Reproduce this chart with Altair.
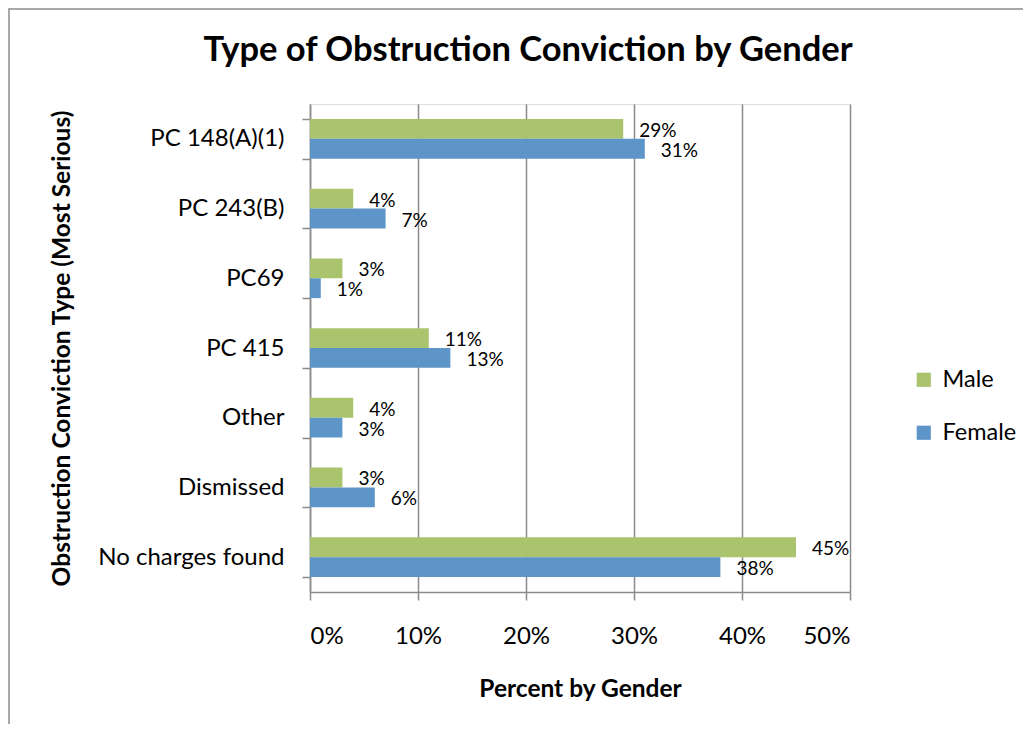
import altair as alt
import pandas as pd

categories = ["PC 148(A)(1)", "PC 243(B)", "PC69", "PC 415", "Other", "Dismissed", "No charges found"]
male = [29, 4, 3, 11, 4, 3, 45]
female = [31, 7, 1, 13, 3, 6, 38]
genders = ["Male", "Female"]
colors = ["#A9C46C", "#5E95C8"]

rows = []
for c, m, f in zip(categories, male, female):
    rows.append({"cat": c, "gender": "Male", "pct": m / 100, "label": f"{m}%"})
    rows.append({"cat": c, "gender": "Female", "pct": f / 100, "label": f"{f}%"})
df = pd.DataFrame(rows)

FONT = "Lato"
GRID = "#8a8a8a"

y_enc = alt.Y("cat:N", sort=categories, title="Obstruction Conviction Type (Most Serious)",
              scale=alt.Scale(paddingInner=0.43, paddingOuter=0.215),
              axis=alt.Axis(tickBand="extent", tickSize=8, tickColor=GRID, tickWidth=1.5,
                            domainColor=GRID, domainWidth=1.5, labelFontSize=24,
                            labelPadding=18, labelColor="black", labelLimit=400,
                            titleFontSize=24.5, titleFontWeight="bold", titlePadding=36,
                            labelFont=FONT, titleFont=FONT, grid=False))
x_enc = alt.X("pct:Q", title="Percent by Gender",
              scale=alt.Scale(domain=[0, 0.5], nice=False),
              axis=alt.Axis(format=".0%", values=[0, 0.1, 0.2, 0.3, 0.4, 0.5],
                            grid=True, gridColor=GRID, gridWidth=1.5, tickSize=8,
                            tickColor=GRID, tickWidth=1.5, domainColor=GRID, domainWidth=1.5,
                            labelFontSize=24, labelPadding=24, labelColor="black",
                            titleFontSize=24.5, titleFontWeight="bold", titlePadding=29,
                            labelFont=FONT, titleFont=FONT))
yoff = alt.YOffset("gender:N", sort=genders, scale=alt.Scale(domain=genders, paddingInner=0))

base = alt.Chart(df).encode(y=y_enc, yOffset=yoff)

bars = base.mark_bar().encode(
    x=x_enc,
    color=alt.Color("gender:N", sort=genders,
                    scale=alt.Scale(domain=genders, range=colors),
                    legend=alt.Legend(title=None, orient="none", legendX=602, legendY=264,
                                      symbolType="square", symbolSize=200, symbolStrokeWidth=0,
                                      labelFontSize=23.5, labelFont=FONT, labelColor="black",
                                      rowPadding=28, labelOffset=7, padding=0)),
)

labels = base.mark_text(align="left", baseline="middle", dx=16, dy=2, fontSize=19, font=FONT,
                        color="black").encode(x=alt.X("pct:Q"), text="label:N")

frame = alt.Chart(pd.DataFrame({"a": [0]})).mark_rect(
    fill=None, stroke="#8c8c8c", strokeWidth=1.5
).encode(x=alt.value(-301), x2=alt.value(760), y=alt.value(-95), y2=alt.value(700))

chart = (frame + bars + labels).properties(
    width=540, height=488,
    title=alt.TitleParams("Type of Obstruction Conviction by Gender", fontSize=34.5,
                          font=FONT, fontWeight="bold", anchor="middle", dx=-52,
                          offset=-60, color="black"),
    autosize="none",
    padding={"left": 302, "top": 96, "right": 173, "bottom": 132},
).configure_view(stroke=None).configure(background="white")

chart.save("out.html", embed_options={"renderer": "svg", "actions": False})
